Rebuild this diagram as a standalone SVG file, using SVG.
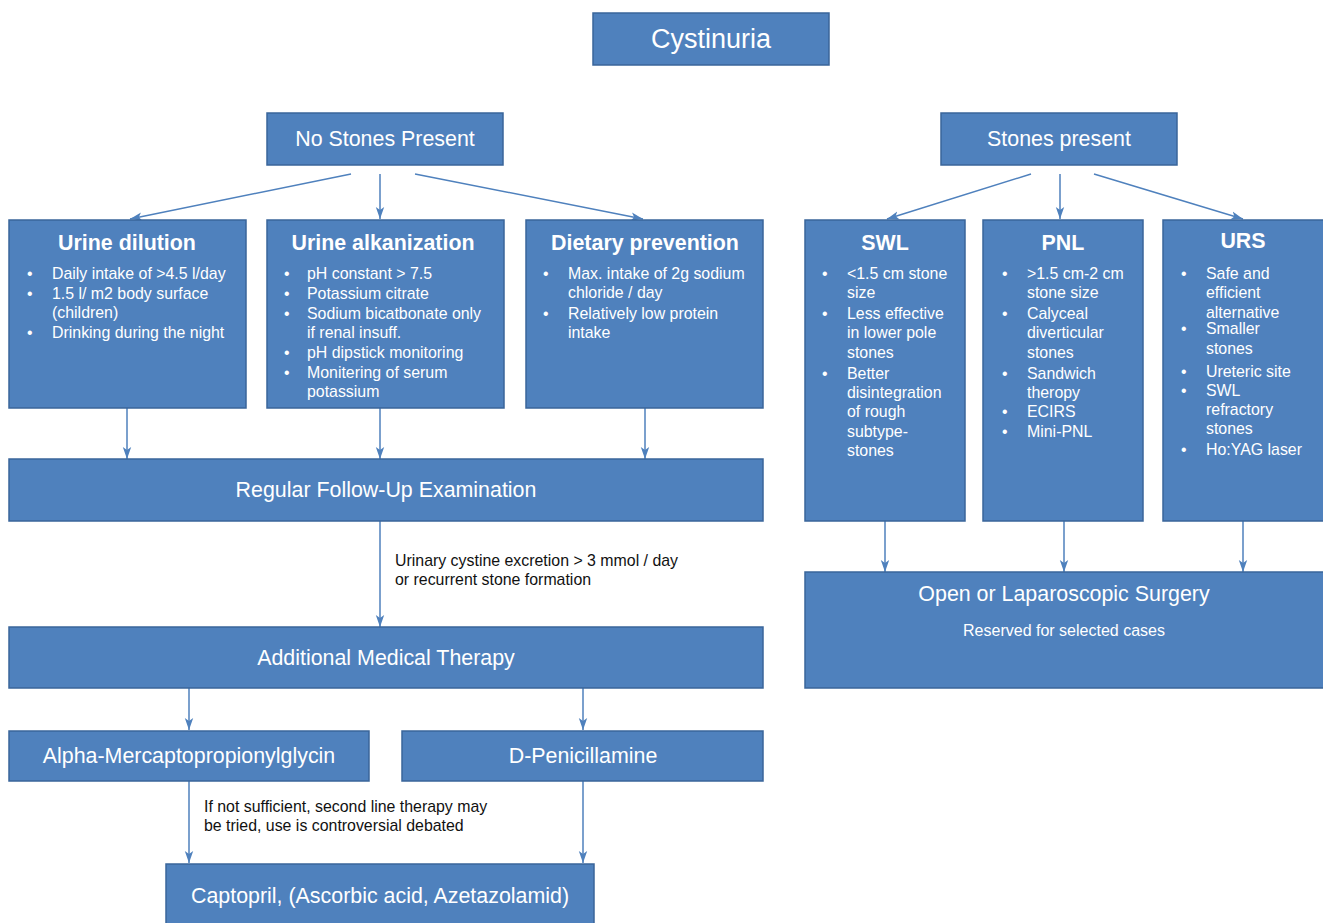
<svg xmlns="http://www.w3.org/2000/svg" width="1323" height="923" viewBox="0 0 1323 923">
<defs>
<marker id="ah" viewBox="0 0 12 10" refX="12" refY="5" markerWidth="12" markerHeight="10" markerUnits="userSpaceOnUse" orient="auto">
<path d="M0,0.8 L12,5 L0,9.2 L3,5 Z" fill="#4F81BD"/>
</marker>
<style>
.box{fill:#4F81BD;stroke:#3A659A;stroke-width:1.5}
.t{font-family:"Liberation Sans",Arial,sans-serif;fill:#fff;text-anchor:middle}
.h{font-family:"Liberation Sans",Arial,sans-serif;fill:#fff;font-weight:bold;font-size:21.4px;text-anchor:middle}
.b{font-family:"Liberation Sans",Arial,sans-serif;fill:#fff;font-size:15.9px}
.n{font-family:"Liberation Sans",Arial,sans-serif;fill:#111;font-size:15.9px}
.c{stroke:#4F81BD;stroke-width:1.5;fill:none;marker-end:url(#ah)}
</style>
</defs>
<rect width="1323" height="923" fill="#fff"/>
<g id="connectors">
<line class="c" x1="351" y1="174" x2="130" y2="219"/>
<line class="c" x1="380" y1="174" x2="380" y2="219"/>
<line class="c" x1="415" y1="174" x2="643" y2="219"/>
<line class="c" x1="1031" y1="174" x2="887" y2="219"/>
<line class="c" x1="1060" y1="174" x2="1060" y2="219"/>
<line class="c" x1="1094" y1="174" x2="1243" y2="219"/>
<line class="c" x1="127" y1="408" x2="127" y2="459"/>
<line class="c" x1="380" y1="408" x2="380" y2="459"/>
<line class="c" x1="645" y1="408" x2="645" y2="459"/>
<line class="c" x1="380" y1="521" x2="380" y2="627"/>
<line class="c" x1="189" y1="688" x2="189" y2="730"/>
<line class="c" x1="583" y1="688" x2="583" y2="730"/>
<line class="c" x1="189" y1="781" x2="189" y2="863"/>
<line class="c" x1="583" y1="781" x2="583" y2="863"/>
<line class="c" x1="885" y1="521" x2="885" y2="572"/>
<line class="c" x1="1064" y1="521" x2="1064" y2="572"/>
<line class="c" x1="1243" y1="521" x2="1243" y2="572"/>
<text class="n" x="395" y="566">Urinary cystine excretion &gt; 3 mmol / day</text>
<text class="n" x="395" y="585">or recurrent stone formation</text>
<text class="n" x="204" y="812">If not sufficient, second line therapy may</text>
<text class="n" x="204" y="831">be tried, use is controversial debated</text>
</g>
<g id="cystinuria">
<rect class="box" x="593" y="13" width="236" height="52"/>
<text class="t" x="711" y="48" font-size="27">Cystinuria</text>
</g>
<g id="no-stones">
<rect class="box" x="267" y="113" width="236" height="52"/>
<text class="t" x="385" y="146" font-size="21.4">No Stones Present</text>
</g>
<g id="stones-present">
<rect class="box" x="941" y="113" width="236" height="52"/>
<text class="t" x="1059" y="146" font-size="21.4">Stones present</text>
</g>
<g id="urine-dilution">
<rect class="box" x="9" y="220" width="237" height="188"/>
<text class="h" x="127" y="250">Urine dilution</text>
<g class="b">
<text x="27" y="279">•</text><text x="52" y="279">Daily intake of &gt;4.5 l/day</text>
<text x="27" y="299">•</text><text x="52" y="299">1.5 l/ m2 body surface</text>
<text x="52" y="318">(children)</text>
<text x="27" y="338">•</text><text x="52" y="338">Drinking during the night</text>
</g>
</g>
<g id="urine-alkanization">
<rect class="box" x="267" y="220" width="237" height="188"/>
<text class="h" x="383" y="250">Urine alkanization</text>
<g class="b">
<text x="284" y="279">•</text><text x="307" y="279">pH constant &gt; 7.5</text>
<text x="284" y="299">•</text><text x="307" y="299">Potassium citrate</text>
<text x="284" y="319">•</text><text x="307" y="319">Sodium bicatbonate only</text>
<text x="307" y="338">if renal insuff.</text>
<text x="284" y="358">•</text><text x="307" y="358">pH dipstick monitoring</text>
<text x="284" y="378">•</text><text x="307" y="378">Monitering of serum</text>
<text x="307" y="397">potassium</text>
</g>
</g>
<g id="dietary-prevention">
<rect class="box" x="526" y="220" width="237" height="188"/>
<text class="h" x="645" y="250">Dietary prevention</text>
<g class="b">
<text x="543" y="279">•</text><text x="568" y="279">Max. intake of 2g sodium</text>
<text x="568" y="298">chloride / day</text>
<text x="543" y="319">•</text><text x="568" y="319">Relatively low protein</text>
<text x="568" y="338">intake</text>
</g>
</g>
<g id="swl">
<rect class="box" x="805" y="220" width="160" height="301"/>
<text class="h" x="885" y="250">SWL</text>
<g class="b">
<text x="822" y="279">•</text><text x="847" y="279">&lt;1.5 cm stone</text>
<text x="847" y="298">size</text>
<text x="822" y="319">•</text><text x="847" y="319">Less effective</text>
<text x="847" y="338">in lower pole</text>
<text x="847" y="358">stones</text>
<text x="822" y="379">•</text><text x="847" y="379">Better</text>
<text x="847" y="398">disintegration</text>
<text x="847" y="417">of rough</text>
<text x="847" y="437">subtype-</text>
<text x="847" y="456">stones</text>
</g>
</g>
<g id="pnl">
<rect class="box" x="983" y="220" width="160" height="301"/>
<text class="h" x="1063" y="250">PNL</text>
<g class="b">
<text x="1002" y="279">•</text><text x="1027" y="279">&gt;1.5 cm-2 cm</text>
<text x="1027" y="298">stone size</text>
<text x="1002" y="319">•</text><text x="1027" y="319">Calyceal</text>
<text x="1027" y="338">diverticular</text>
<text x="1027" y="358">stones</text>
<text x="1002" y="379">•</text><text x="1027" y="379">Sandwich</text>
<text x="1027" y="398">theropy</text>
<text x="1002" y="417">•</text><text x="1027" y="417">ECIRS</text>
<text x="1002" y="437">•</text><text x="1027" y="437">Mini-PNL</text>
</g>
</g>
<g id="urs">
<rect class="box" x="1163" y="220" width="161" height="301"/>
<text class="h" x="1243" y="248">URS</text>
<g class="b">
<text x="1181" y="279">•</text><text x="1206" y="279">Safe and</text>
<text x="1206" y="298">efficient</text>
<text x="1206" y="318">alternative</text>
<text x="1181" y="334">•</text><text x="1206" y="334">Smaller</text>
<text x="1206" y="354">stones</text>
<text x="1181" y="377">•</text><text x="1206" y="377">Ureteric site</text>
<text x="1181" y="396">•</text><text x="1206" y="396">SWL</text>
<text x="1206" y="415">refractory</text>
<text x="1206" y="434">stones</text>
<text x="1181" y="455">•</text><text x="1206" y="455">Ho:YAG laser</text>
</g>
</g>
<g id="follow-up">
<rect class="box" x="9" y="459" width="754" height="62"/>
<text class="t" x="386" y="497" font-size="21.4">Regular Follow-Up Examination</text>
</g>
<g id="surgery">
<rect class="box" x="805" y="572" width="519" height="116"/>
<text class="t" x="1064" y="601" font-size="21.4">Open or Laparoscopic Surgery</text>
<text class="t" x="1064" y="636" font-size="16">Reserved for selected cases</text>
</g>
<g id="additional-therapy">
<rect class="box" x="9" y="627" width="754" height="61"/>
<text class="t" x="386" y="665" font-size="21.4">Additional Medical Therapy</text>
</g>
<g id="alpha-mpg">
<rect class="box" x="9" y="731" width="360" height="50"/>
<text class="t" x="189" y="763" font-size="21.4">Alpha-Mercaptopropionylglycin</text>
</g>
<g id="d-penicillamine">
<rect class="box" x="402" y="731" width="361" height="50"/>
<text class="t" x="583" y="763" font-size="21.4">D-Penicillamine</text>
</g>
<g id="captopril">
<rect class="box" x="166" y="864" width="428" height="70"/>
<text class="t" x="380" y="903" font-size="21.4">Captopril, (Ascorbic acid, Azetazolamid)</text>
</g>
</svg>
